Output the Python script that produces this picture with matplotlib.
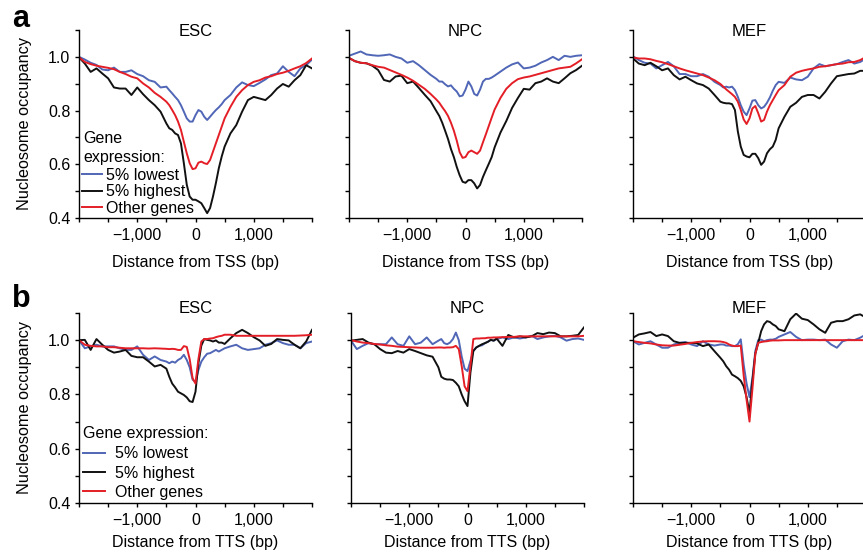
import numpy as np
import matplotlib
matplotlib.use("Agg")
from matplotlib import pyplot as plt

plt.rcParams['font.family'] = ['Liberation Sans', 'DejaVu Sans']
plt.rcParams['font.size'] = 11.5

# distance from TSS / TTS (bp)
distance = [-2000, -1900, -1800, -1700, -1600, -1500, -1400, -1300, -1200, -1100,
            -1000, -900, -800, -700, -600, -500,
            -450, -400, -350, -300, -250, -200, -150, -100, -50, 0,
            50, 100, 150, 200, 250, 300, 350, 400, 450,
            500, 600, 700, 800, 900, 1000, 1100, 1200, 1300, 1400,
            1500, 1600, 1700, 1800, 1900, 2000]

cells = ["ESC", "NPC", "MEF"]
series_labels = ["5% lowest", "5% highest", "Other genes"]
series_colors = ["#5066b6", "#111111", "#e41e26"]

# ---- panel a: around the TSS ----
esc_tss_lowest = [1.0, 0.99, 0.978, 0.97, 0.953, 0.95, 0.96, 0.944, 0.944, 0.95, 0.936, 0.928, 0.913, 0.907, 0.886, 0.889,
                  0.876, 0.864, 0.851, 0.839, 0.82, 0.796, 0.771, 0.759, 0.759, 0.783, 0.802, 0.796, 0.777, 0.765, 0.777, 0.79, 0.802, 0.812, 0.824,
                  0.839, 0.858, 0.886, 0.905, 0.895, 0.891, 0.903, 0.916, 0.932, 0.938, 0.965, 0.944, 0.928, 0.957, 0.969, 0.99]
esc_tss_highest = [0.998, 0.975, 0.944, 0.957, 0.938, 0.92, 0.886, 0.882, 0.882, 0.858, 0.886, 0.861, 0.839, 0.82, 0.796, 0.752,
                   0.734, 0.728, 0.715, 0.709, 0.678, 0.604, 0.524, 0.48, 0.468, 0.468, 0.462, 0.455, 0.437, 0.418, 0.437, 0.48, 0.53, 0.585, 0.629,
                   0.666, 0.715, 0.746, 0.796, 0.839, 0.851, 0.845, 0.839, 0.858, 0.882, 0.899, 0.889, 0.913, 0.932, 0.969, 0.957]
esc_tss_other = [0.998, 0.981, 0.973, 0.967, 0.963, 0.959, 0.954, 0.944, 0.936, 0.926, 0.92, 0.901, 0.886, 0.866, 0.851, 0.833,
                 0.82, 0.802, 0.783, 0.759, 0.728, 0.684, 0.641, 0.604, 0.582, 0.585, 0.606, 0.61, 0.604, 0.601, 0.616, 0.647, 0.678, 0.709, 0.74,
                 0.771, 0.814, 0.851, 0.876, 0.895, 0.907, 0.913, 0.923, 0.928, 0.936, 0.941, 0.948, 0.957, 0.965, 0.977, 0.994]

npc_tss_lowest = [1.004, 1.012, 1.02, 1.009, 1.006, 1.004, 1.006, 1.009, 1.0, 0.994, 0.978, 0.984, 0.969, 0.951, 0.933, 0.918,
                  0.908, 0.908, 0.898, 0.89, 0.894, 0.881, 0.871, 0.853, 0.856, 0.878, 0.908, 0.89, 0.862, 0.856, 0.878, 0.908, 0.918, 0.918, 0.923,
                  0.93, 0.945, 0.96, 0.972, 0.979, 0.957, 0.96, 0.967, 0.979, 0.988, 1.0, 0.988, 1.004, 1.0, 1.004, 1.006]
npc_tss_highest = [0.996, 0.984, 0.978, 0.976, 0.967, 0.951, 0.914, 0.908, 0.927, 0.93, 0.902, 0.908, 0.884, 0.859, 0.835, 0.798,
                   0.78, 0.755, 0.725, 0.694, 0.657, 0.627, 0.59, 0.559, 0.535, 0.531, 0.541, 0.541, 0.529, 0.51, 0.523, 0.553, 0.578, 0.602, 0.627,
                   0.663, 0.718, 0.761, 0.81, 0.847, 0.881, 0.878, 0.902, 0.908, 0.92, 0.908, 0.902, 0.92, 0.939, 0.951, 0.967]
npc_tss_other = [0.996, 0.984, 0.978, 0.976, 0.969, 0.963, 0.96, 0.951, 0.942, 0.933, 0.923, 0.911, 0.896, 0.881, 0.862, 0.841,
                 0.829, 0.813, 0.798, 0.78, 0.755, 0.725, 0.688, 0.645, 0.624, 0.627, 0.645, 0.651, 0.645, 0.639, 0.651, 0.682, 0.712, 0.743, 0.774,
                 0.804, 0.847, 0.881, 0.902, 0.917, 0.923, 0.927, 0.933, 0.939, 0.945, 0.951, 0.957, 0.96, 0.963, 0.976, 0.991]

mef_tss_lowest = [1.002, 0.988, 0.978, 0.975, 0.957, 0.969, 0.981, 0.965, 0.936, 0.936, 0.928, 0.928, 0.936, 0.926, 0.907, 0.895,
                  0.886, 0.889, 0.886, 0.889, 0.876, 0.851, 0.82, 0.796, 0.783, 0.808, 0.837, 0.839, 0.82, 0.808, 0.814, 0.829, 0.849, 0.874, 0.895,
                  0.907, 0.903, 0.923, 0.916, 0.913, 0.926, 0.957, 0.973, 0.965, 0.969, 0.973, 0.981, 0.988, 0.975, 0.981, 0.994]
mef_tss_highest = [0.994, 0.975, 0.969, 0.978, 0.965, 0.95, 0.957, 0.932, 0.916, 0.926, 0.913, 0.901, 0.895, 0.882, 0.858, 0.833,
                   0.829, 0.827, 0.827, 0.824, 0.802, 0.722, 0.666, 0.635, 0.629, 0.626, 0.639, 0.639, 0.623, 0.598, 0.61, 0.641, 0.656, 0.666, 0.691,
                   0.734, 0.777, 0.814, 0.829, 0.851, 0.858, 0.858, 0.845, 0.87, 0.901, 0.928, 0.932, 0.936, 0.938, 0.948, 0.948]
mef_tss_other = [0.998, 0.994, 0.994, 0.991, 0.985, 0.98, 0.973, 0.965, 0.957, 0.95, 0.944, 0.938, 0.932, 0.923, 0.913, 0.899,
                 0.889, 0.879, 0.87, 0.861, 0.851, 0.833, 0.802, 0.767, 0.75, 0.771, 0.808, 0.817, 0.79, 0.759, 0.765, 0.796, 0.82, 0.839, 0.858,
                 0.876, 0.895, 0.926, 0.941, 0.948, 0.953, 0.957, 0.963, 0.965, 0.969, 0.973, 0.975, 0.98, 0.981, 0.988, 1.0]

# ---- panel b: around the TTS ----
esc_tts_lowest = [1.0, 0.97, 0.977, 0.983, 0.977, 0.977, 0.977, 0.97, 0.964, 0.964, 0.977, 0.946, 0.927, 0.94, 0.927, 0.921,
                  0.915, 0.921, 0.917, 0.927, 0.933, 0.946, 0.927, 0.9, 0.855, 0.845, 0.89, 0.921, 0.937, 0.95, 0.952, 0.958, 0.964, 0.958, 0.964,
                  0.97, 0.977, 0.983, 0.97, 0.964, 0.967, 0.97, 0.983, 0.989, 0.999, 0.989, 0.983, 0.983, 0.97, 0.989, 0.995]
esc_tts_highest = [1.0, 1.001, 0.964, 1.004, 0.983, 0.964, 0.954, 0.958, 0.964, 0.942, 0.937, 0.937, 0.921, 0.903, 0.909, 0.895,
                   0.865, 0.84, 0.826, 0.81, 0.804, 0.798, 0.789, 0.775, 0.772, 0.81, 0.915, 0.98, 1.004, 1.001, 0.999, 0.995, 0.999, 0.991, 0.991,
                   0.986, 1.007, 1.026, 1.038, 1.026, 1.011, 0.999, 0.979, 0.986, 1.004, 1.001, 0.999, 0.983, 0.97, 0.995, 1.038]
esc_tts_other = [1.0, 0.983, 0.979, 0.977, 0.977, 0.974, 0.974, 0.972, 0.97, 0.97, 0.97, 0.97, 0.969, 0.97, 0.969, 0.968,
                 0.967, 0.968, 0.967, 0.964, 0.964, 0.978, 0.975, 0.93, 0.86, 0.84, 0.93, 0.995, 1.004, 1.004, 1.006, 1.007, 1.011, 1.014, 1.016,
                 1.02, 1.02, 1.016, 1.016, 1.016, 1.016, 1.016, 1.016, 1.016, 1.016, 1.016, 1.016, 1.016, 1.017, 1.018, 1.02]

npc_tts_lowest = [0.998, 0.967, 0.979, 0.989, 0.985, 0.985, 0.985, 1.01, 0.985, 0.979, 1.014, 0.985, 0.991, 1.01, 0.985, 0.998,
                  1.004, 0.989, 0.985, 0.991, 1.004, 1.028, 1.0, 0.94, 0.895, 0.886, 0.923, 0.96, 0.973, 0.979, 0.981, 0.989, 0.994, 1.001, 0.998,
                  1.004, 1.01, 1.004, 1.01, 1.006, 1.01, 1.016, 1.004, 1.01, 1.014, 1.016, 1.01, 0.998, 1.004, 1.006, 1.001]
npc_tts_highest = [0.998, 1.001, 1.004, 0.991, 0.985, 0.967, 0.954, 0.952, 0.96, 0.954, 0.967, 0.96, 0.952, 0.944, 0.939, 0.9,
                   0.865, 0.858, 0.855, 0.855, 0.853, 0.843, 0.83, 0.8, 0.775, 0.757, 0.88, 0.96, 0.973, 0.979, 0.985, 0.989, 0.994, 1.001, 0.998,
                   1.006, 0.979, 1.019, 1.01, 1.014, 1.01, 1.014, 1.026, 1.022, 1.028, 1.026, 1.014, 1.014, 1.016, 1.019, 1.047]
npc_tts_other = [1.0, 0.995, 0.991, 0.989, 0.986, 0.984, 0.981, 0.979, 0.976, 0.975, 0.974, 0.973, 0.972, 0.972, 0.972, 0.973,
                 0.973, 0.972, 0.973, 0.973, 0.974, 0.979, 0.967, 0.905, 0.83, 0.812, 0.905, 1.004, 1.006, 1.006, 1.007, 1.007, 1.009, 1.009, 1.01,
                 1.01, 1.011, 1.012, 1.012, 1.014, 1.014, 1.014, 1.014, 1.014, 1.014, 1.014, 1.014, 1.014, 1.014, 1.014, 1.016]

mef_tts_lowest = [0.996, 0.984, 0.99, 0.996, 0.984, 0.972, 0.972, 0.984, 0.99, 0.993, 0.984, 0.978, 0.996, 0.984, 0.98, 0.984,
                  0.984, 0.98, 0.98, 0.978, 0.978, 0.985, 1.003, 0.91, 0.84, 0.79, 0.86, 0.96, 1.0, 1.002, 0.996, 1.0, 1.002, 1.002, 1.005,
                  1.012, 1.021, 1.03, 1.012, 1.0, 1.002, 1.002, 1.0, 1.002, 0.984, 0.972, 0.996, 1.002, 1.0, 1.009, 1.021]
mef_tts_highest = [1.009, 1.021, 1.025, 1.03, 1.015, 1.021, 1.015, 0.996, 0.99, 0.99, 0.99, 0.988, 0.978, 0.984, 0.959, 0.935,
                   0.922, 0.904, 0.891, 0.873, 0.867, 0.86, 0.85, 0.83, 0.79, 0.732, 0.85, 0.95, 0.99, 1.033, 1.058, 1.07, 1.067, 1.058, 1.052,
                   1.04, 1.033, 1.077, 1.098, 1.079, 1.074, 1.058, 1.04, 1.027, 1.064, 1.07, 1.07, 1.077, 1.091, 1.095, 1.083]
mef_tts_other = [0.996, 0.993, 0.99, 0.988, 0.984, 0.981, 0.98, 0.98, 0.983, 0.986, 0.99, 0.993, 0.995, 0.996, 0.996, 0.995,
                 0.993, 0.99, 0.984, 0.98, 0.978, 0.978, 0.98, 0.87, 0.78, 0.70, 0.82, 0.95, 0.99, 0.993, 0.995, 0.996, 0.998, 0.999, 0.999,
                 0.999, 1.0, 1.0, 1.0, 1.0, 1.0, 1.0, 1.0, 1.0, 1.0, 1.0, 1.0, 1.0, 1.0, 1.0, 1.0]

tss_data = {"ESC": (esc_tss_lowest, esc_tss_highest, esc_tss_other),
            "NPC": (npc_tss_lowest, npc_tss_highest, npc_tss_other),
            "MEF": (mef_tss_lowest, mef_tss_highest, mef_tss_other)}
tts_data = {"ESC": (esc_tts_lowest, esc_tts_highest, esc_tts_other),
            "NPC": (npc_tts_lowest, npc_tts_highest, npc_tts_other),
            "MEF": (mef_tts_lowest, mef_tts_highest, mef_tts_other)}

fig = plt.figure(figsize=(8.63, 5.52), dpi=100)

W, H = 863.0, 552.0
# (left px, top px, bottom px) of each row's plot area
rows = [
    dict(data=tss_data, lefts=[79, 349, 633], top=30, bottom=218, site="TSS", title_y=0.99,
         xlabel_y=-0.195),
    dict(data=tts_data, lefts=[79, 351, 633], top=313, bottom=503, site="TTS", title_y=1.025,
         xlabel_y=-0.17),
]
ax_w = 233

yticks = [0.4, 0.5, 0.6, 0.7, 0.8, 0.9, 1.0, 1.1]
ylabels = ["0.4", "", "0.6", "", "0.8", "", "1.0", ""]
xticks = [-2000, -1500, -1000, -500, 0, 500, 1000, 1500, 2000]
xlabels = ["", "", "\u22121,000", "", "0", "", "1,000", "", ""]

axes_rows = []
for r, row in enumerate(rows):
    axs = []
    for c, cell in enumerate(cells):
        left = row["lefts"][c] / W
        bottom = (H - row["bottom"]) / H
        height = (row["bottom"] - row["top"]) / H
        ax = fig.add_axes([left, bottom, ax_w / W, height])
        for vals, lab, col in zip(row["data"][cell], series_labels, series_colors):
            ax.plot(distance, vals, color=col, lw=1.4, label=lab)
        ax.set_xlim(-2000, 2000)
        ax.set_ylim(0.4, 1.1)
        ax.spines["top"].set_visible(False)
        ax.spines["right"].set_visible(False)
        for s in ("left", "bottom"):
            ax.spines[s].set_linewidth(1.0)
        ax.set_yticks(yticks, ylabels if c == 0 else [""] * len(yticks))
        ax.set_xticks(xticks, xlabels)
        ax.tick_params(direction="out", length=3.2, width=1.0, labelsize=11.5, pad=3)
        ax.tick_params(axis="x", pad=4)
        ax.set_xlabel("Distance from %s (bp)" % row["site"], fontsize=11.5)
        ax.xaxis.set_label_coords(0.5, row["xlabel_y"])
        if c == 0:
            ax.set_ylabel("Nucleosome occupancy", fontsize=11.7)
            ax.yaxis.set_label_coords(-0.2, 0.5)
        ax.text(0.5, row["title_y"], cell, transform=ax.transAxes, ha="center", va="center",
                fontsize=12)
        axs.append(ax)
    axes_rows.append(axs)

# legends: title as separate text so the gap can match
ax_a = axes_rows[0][0]
ax_a.text(0.017, 0.399, "Gene", transform=ax_a.transAxes, va="baseline", fontsize=11.5)
ax_a.text(0.017, 0.30, "expression:", transform=ax_a.transAxes, va="baseline", fontsize=11.5)
ax_a.legend(loc="lower left", bbox_to_anchor=(0.011, 0.012), frameon=False, fontsize=11.5,
            handlelength=1.25, handletextpad=0.3, labelspacing=0.09, borderpad=0,
            borderaxespad=0)

ax_b = axes_rows[1][0]
ax_b.text(0.017, 0.34, "Gene expression:", transform=ax_b.transAxes, va="baseline",
          fontsize=11.5)
ax_b.legend(loc="lower left", bbox_to_anchor=(0.016, 0.016), frameon=False, fontsize=11.5,
            handlelength=1.4, handletextpad=0.6, labelspacing=0.27, borderpad=0,
            borderaxespad=0)

fig.text(12 / W, 1 - 27 / H, "a", fontsize=22, fontweight="bold", va="baseline")
fig.text(12 / W, 1 - 307 / H, "b", fontsize=22, fontweight="bold", va="baseline")

fig.savefig("out.png", dpi=100)
